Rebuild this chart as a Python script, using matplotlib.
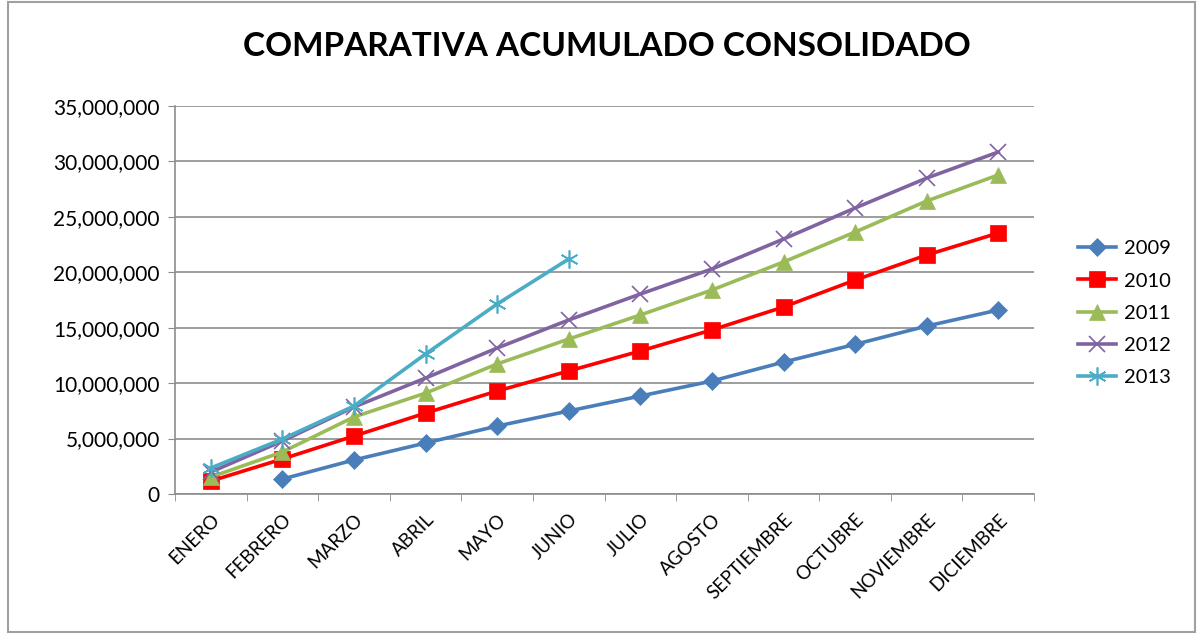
import matplotlib
matplotlib.use("Agg")
import matplotlib.pyplot as plt
from matplotlib.ticker import FuncFormatter, FixedLocator
from matplotlib.patches import Rectangle
import numpy as np

MONTHS = ["ENERO", "FEBRERO", "MARZO", "ABRIL", "MAYO", "JUNIO", "JULIO",
          "AGOSTO", "SEPTIEMBRE", "OCTUBRE", "NOVIEMBRE", "DICIEMBRE"]

y2009 = [None, 1.35e6, 3.07e6, 4.6e6, 6.13e6, 7.49e6, 8.84e6, 10.19e6,
         11.9e6, 13.5e6, 15.15e6, 16.6e6]
y2010 = [1.17e6, 3.16e6, 5.23e6, 7.3e6, 9.29e6, 11.1e6, 12.9e6, 14.8e6,
         16.87e6, 19.3e6, 21.56e6, 23.54e6]
y2011 = [1.53e6, 3.79e6, 6.95e6, 9.1e6, 11.73e6, 13.98e6, 16.15e6, 18.4e6,
         20.93e6, 23.63e6, 26.43e6, 28.78e6]
y2012 = [1.98e6, 4.78e6, 7.85e6, 10.46e6, 13.17e6, 15.7e6, 18.04e6, 20.3e6,
         23.0e6, 25.8e6, 28.5e6, 30.85e6]
y2013 = [2.35e6, 4.96e6, 7.94e6, 12.63e6, 17.14e6, 21.2e6]

SERIES = [
    ("2009", y2009, "#4A7EBB", "D", 9),
    ("2010", y2010, "#FF0000", "s", 11),
    ("2011", y2011, "#9BBB59", "^", 11),
    ("2012", y2012, "#8064A2", "x", 12),
    ("2013", y2013, "#4BACC6", (6, 2, 0), 13),
]

plt.rcParams['font.family'] = ['Lato', 'DejaVu Sans']

fig = plt.figure(figsize=(12.02, 6.34), dpi=100)
fig.patches.append(Rectangle((0.007, 0.003), 0.987, 0.994, transform=fig.transFigure,
                             fill=False, edgecolor="#A0A0A0", linewidth=1.5))
ax = fig.add_axes([0.1456, 0.2208, 0.7147, 0.612])

x = np.arange(len(MONTHS))
for name, vals, color, marker, ms in SERIES:
    v = np.array([np.nan if a is None else a for a in vals], dtype=float)
    xx = x[:len(v)]
    mew = 1.2 if marker in ("x", (6, 2, 0)) else 0.5
    ax.plot(xx, v, color=color, linewidth=2.6, marker=marker, markersize=ms,
            markeredgewidth=mew, markeredgecolor=color, label=name, zorder=3)

ax.set_xlim(-0.5, 11.5)
ax.set_ylim(0, 35e6)
ax.set_yticks(np.arange(0, 35e6 + 1, 5e6))
ax.yaxis.set_major_formatter(FuncFormatter(lambda v, p: f"{int(v):,}"))
ax.grid(axis="y", color="#8C8C8C", linewidth=1.2)
ax.set_axisbelow(True)

ax.set_xticks(x)
ax.set_xticklabels(MONTHS, rotation=45, ha="right", rotation_mode="anchor")
ax.xaxis.set_minor_locator(FixedLocator(np.arange(-0.5, 12, 1)))
ax.tick_params(axis="x", which="major", length=0, pad=12, labelsize=13.5)
ax.tick_params(axis="x", which="minor", length=5, color="#8C8C8C")
ax.tick_params(axis="y", length=5, color="#8C8C8C", labelsize=15, pad=6)

for s in ["top", "right"]:
    ax.spines[s].set_visible(False)
for s in ["left", "bottom"]:
    ax.spines[s].set_color("#8C8C8C")
    ax.spines[s].set_linewidth(1.2)

fig.text(0.505, 0.926, "COMPARATIVA ACUMULADO CONSOLIDADO", ha="center", va="center",
         fontsize=24, fontweight="bold")

ax.legend(loc="center left", bbox_to_anchor=(1.03, 0.466), frameon=False,
          fontsize=14.5, handlelength=1.9, labelspacing=0.75, handletextpad=0.4)

plt.savefig("out.png", dpi=100)
plt.close()
